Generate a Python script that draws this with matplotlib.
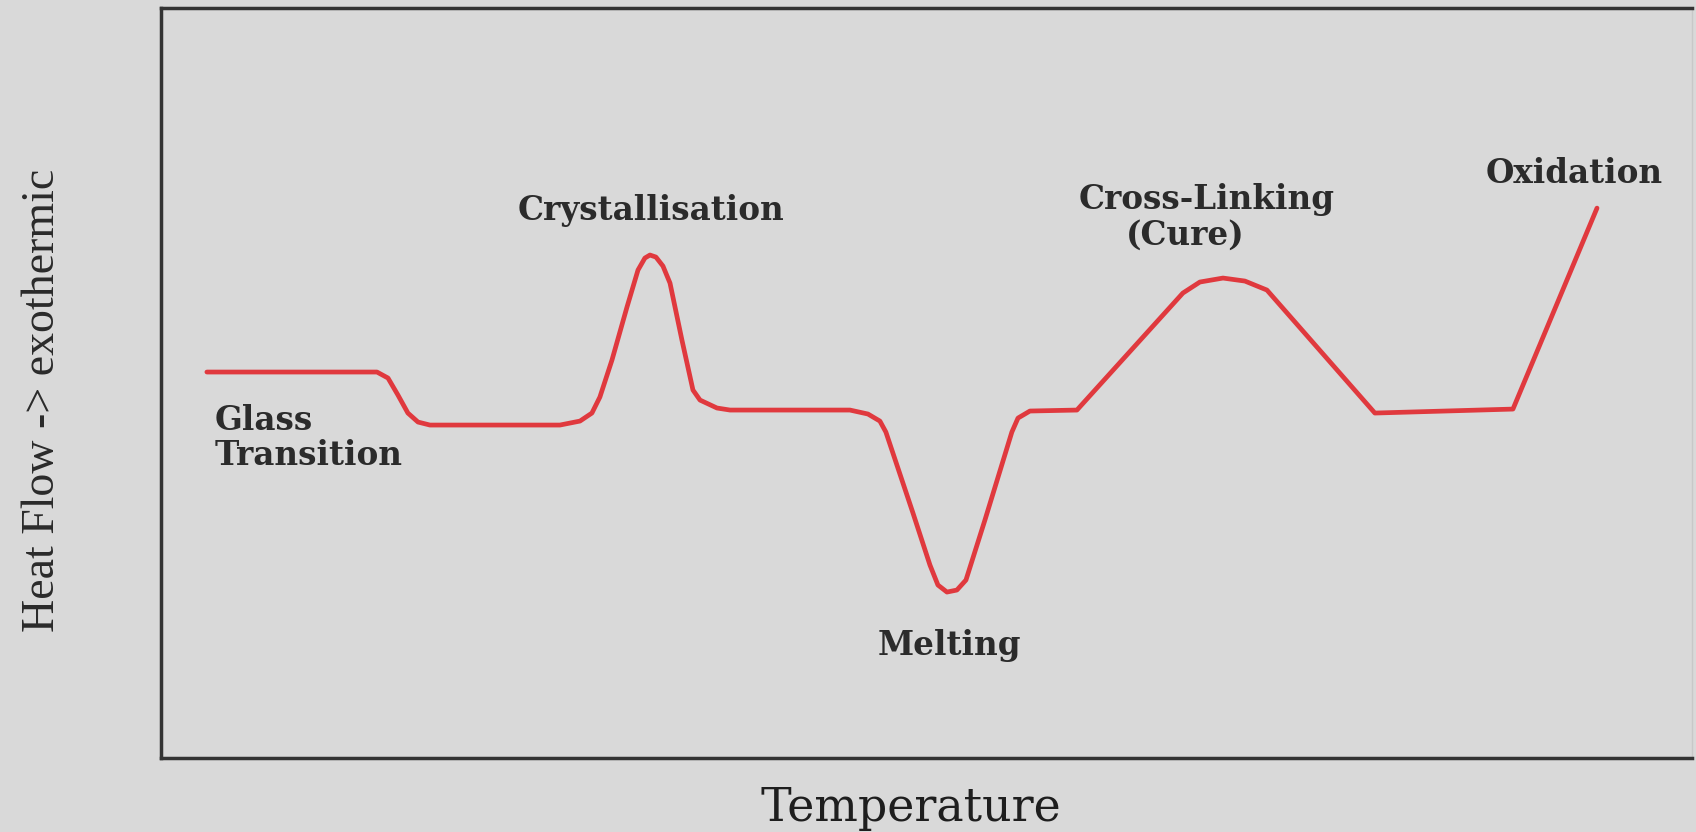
import numpy as np
import matplotlib
matplotlib.use("Agg")
import matplotlib.pyplot as plt


# DSC curve (arbitrary units, 0-100 on both axes)
temperature = [3.00, 14.11, 14.83, 15.48, 16.13, 16.79, 17.57, 26.06, 27.37, 28.15,
               28.67, 29.46, 30.44, 31.16, 31.61, 31.94, 32.33, 32.79, 33.25, 34.03,
               34.75, 35.21, 36.32, 37.17, 45.00, 46.18, 46.96, 47.35, 49.12, 50.23,
               50.75, 51.34, 51.99, 52.58, 53.82, 55.58, 55.98, 56.76, 59.83, 66.75,
               67.86, 69.37, 70.80, 72.24, 79.29, 88.31, 93.80]
heat_flow = [51.47, 51.47, 50.67, 48.40, 46.00, 44.80, 44.40, 44.40, 44.93, 46.00,
             48.13, 53.07, 60.13, 65.07, 66.67, 67.07, 66.80, 65.60, 63.33, 55.73,
             49.07, 47.73, 46.67, 46.40, 46.40, 45.87, 44.93, 43.47, 32.67, 25.73,
             23.07, 22.13, 22.40, 23.73, 31.73, 43.47, 45.33, 46.27, 46.40, 62.00,
             63.47, 64.00, 63.60, 62.40, 46.00, 46.53, 73.33]

# annotations (text baseline positions, same units)
labels = ["Glass", "Transition", "Crystallisation", "Melting", "Cross-Linking", "(Cure)", "Oxidation"]
label_x = [3.5, 3.5, 32.0, 51.5, 68.3, 66.9, 92.3]
label_y = [43.7, 39.1, 71.7, 13.7, 73.2, 68.4, 76.7]
label_ha = ["left", "left", "center", "center", "center", "center", "center"]

bg = "#d9d9d9"

fig = plt.figure(figsize=(16.96, 8.32), dpi=100, facecolor=bg)
ax = fig.add_axes([0.0949, 0.0889, 0.9027, 0.9014], facecolor=bg)

ax.plot(temperature, heat_flow, color="#e0393e", lw=3.4, solid_joinstyle="round",
        solid_capstyle="round")

for lab, x, y, ha in zip(labels, label_x, label_y, label_ha):
    ax.text(x, y, lab, ha=ha, va="baseline", family="DejaVu Serif",
            fontweight="bold", fontsize=23.5, color="#2b2b2b")

ax.set_xlim(0, 100)
ax.set_ylim(0, 100)
ax.set_xticks([])
ax.set_yticks([])
for s in ax.spines.values():
    s.set_color("#333333")
    s.set_linewidth(2.5)
ax.spines["right"].set_color("#c8c8c8")
ax.spines["right"].set_linewidth(1)

fig.text(911 / 1696, 1 - 808 / 832, "Temperature", ha="center", va="center",
         family="DejaVu Serif", fontsize=33, color="#1e1e1e")
fig.text(43 / 1696, 1 - 400 / 832, "Heat Flow -> exothermic", ha="center", va="center",
         rotation=90, family="Liberation Serif", fontsize=33, color="#2a2a2a")

fig.savefig("out.png", dpi=100, facecolor=bg)
